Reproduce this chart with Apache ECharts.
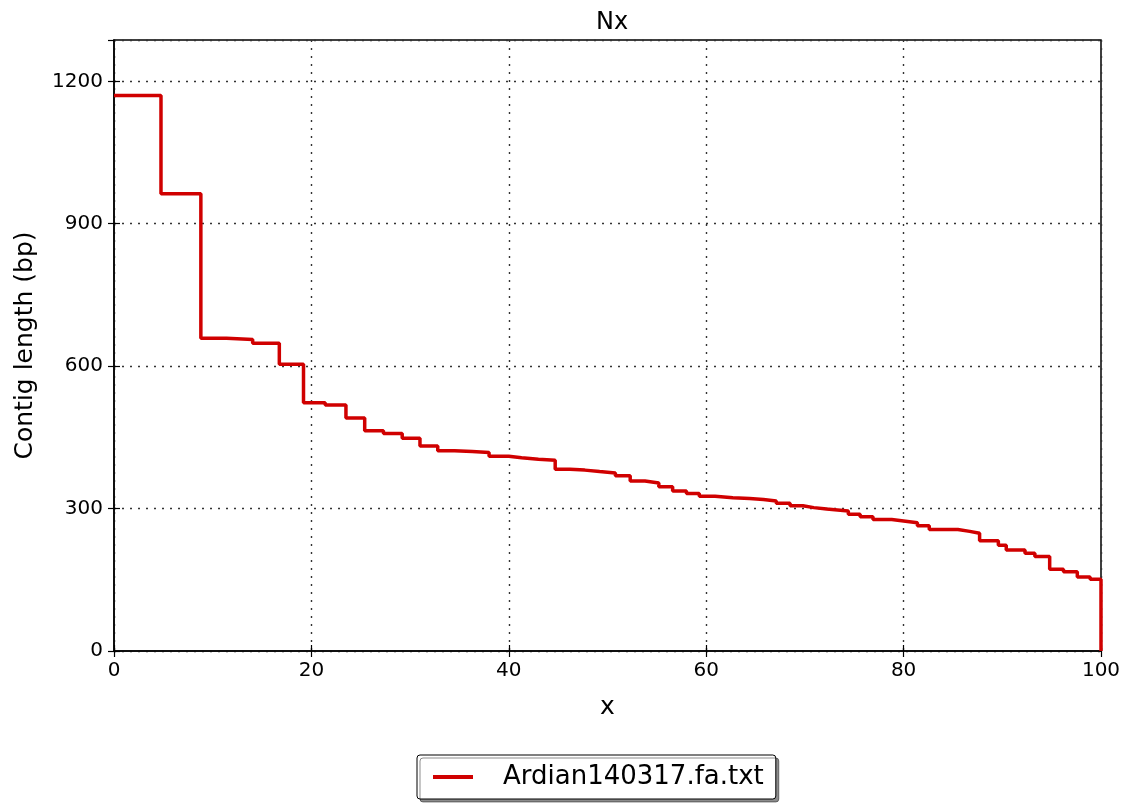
<!DOCTYPE html>
<html>
<head>
<meta charset="utf-8">
<script src="https://cdn.jsdelivr.net/npm/echarts@6/dist/echarts.min.js"></script>
<style>
html,body{margin:0;padding:0;background:#fff;}
#chart{width:1126px;height:803px;}
</style>
</head>
<body>
<div id="chart"></div>
<script>
// Nx curve: start position (x, %) of each level and its contig length (bp)
const stepStarts = [0, 4.76, 8.8, 11.4, 14.05, 16.75, 19.2, 21.4, 23.5, 25.4, 27.3, 29.2, 31.0, 32.8, 34.5, 36.3, 38.0, 40.0, 41.3, 43.0, 44.7, 46.2, 47.7, 49.2, 50.8, 52.3, 53.8, 55.2, 56.6, 58.0, 59.3, 60.9, 62.7, 64.4, 65.8, 67.1, 68.5, 69.8, 70.9, 72.2, 74.4, 75.6, 76.9, 78.8, 80.0, 81.4, 82.6, 85.5, 86.7, 87.7, 89.6, 90.4, 92.3, 93.3, 94.8, 96.2, 97.6, 98.9, 100, 100];
const stepLengths = [1170, 963, 659, 656, 648, 604, 523, 518, 491, 464, 458, 448, 432, 422, 420, 418, 410, 407, 404, 402, 383, 381, 378, 375, 369, 358, 354, 346, 337, 332, 326, 323, 321, 319, 316, 311, 306, 302, 299, 295, 288, 283, 277, 274, 270, 264, 256, 252, 248, 232, 223, 213, 206, 199, 172, 167, 156, 151, 147, 0];
const xTicks = [0, 20, 40, 60, 80, 100];
const yTicks = [0, 300, 600, 900, 1200];
const seriesName = 'Ardian140317.fa.txt';
const chartTitle = 'Nx';
const xName = 'x';
const yName = 'Contig length (bp)';

const data = stepStarts.map((x, i) => [x, stepLengths[i]]);
const FONT = 'DejaVu Sans';
const RED = '#d00000';
const gridDots = {show: true, lineStyle: {color: '#333', width: 1.4, type: [2, 6]}};
const tickIn = {show: true, inside: true, length: 6, lineStyle: {color: '#000', width: 1.2}};
const chart = echarts.init(document.getElementById('chart'), null, {renderer: 'canvas'});
chart.setOption({
  backgroundColor: '#fff',
  animation: false,
  textStyle: {fontFamily: FONT, color: '#000'},
  title: {
    text: chartTitle, left: 607, top: 6, textAlign: 'center',
    textStyle: {fontFamily: FONT, fontSize: 24, fontWeight: 'normal', color: '#000'}
  },
  grid: {
    left: 114, right: 25, top: 40, bottom: 152, show: true,
    borderColor: '#000', borderWidth: 1.5, backgroundColor: 'transparent'
  },
  legend: {
    data: [seriesName], left: 417, top: 755,
    orient: 'horizontal',
    backgroundColor: '#fff',
    borderColor: '#000', borderWidth: 1, borderRadius: 3,
    padding: [9, 12, 9, 16],
    shadowColor: 'rgba(0,0,0,0.45)', shadowOffsetX: 3, shadowOffsetY: 3, shadowBlur: 0,
    itemWidth: 40, itemHeight: 4,
    icon: 'rect',
    textStyle: {fontFamily: FONT, fontSize: 26, color: '#000', padding: [0, 0, 0, 25]}
  },
  xAxis: [{
    type: 'value', min: 0, max: 100, interval: 20,
    name: xName, nameLocation: 'middle', nameGap: 44,
    nameTextStyle: {fontFamily: FONT, fontSize: 25, color: '#000'},
    axisLine: {show: true, onZero: false, lineStyle: {color: '#000', width: 1.5}},
    axisTick: tickIn,
    axisLabel: {fontFamily: FONT, fontSize: 20, color: '#000', margin: 10},
    splitLine: gridDots
  }, {
    type: 'value', min: 0, max: 100, interval: 20, position: 'top',
    axisLine: {show: false}, axisTick: tickIn, axisLabel: {show: false}, splitLine: {show: false}
  }],
  yAxis: [{
    type: 'value', min: 0, max: 1287, interval: 300,
    name: yName, nameLocation: 'middle', nameGap: 76,
    nameTextStyle: {fontFamily: FONT, fontSize: 25, color: '#000'},
    axisLine: {show: true, lineStyle: {color: '#000', width: 1.5}},
    axisTick: tickIn,
    axisLabel: {fontFamily: FONT, fontSize: 20, color: '#000', margin: 11, showMaxLabel: false,
      formatter: v => String(v)},
    splitLine: gridDots
  }, {
    type: 'value', min: 0, max: 1287, interval: 300, position: 'right',
    axisLine: {show: false}, axisTick: tickIn, axisLabel: {show: false}, splitLine: {show: false}
  }],
  series: [{
    name: seriesName, type: 'line', step: 'end',
    data: data, symbol: 'none', showSymbol: false,
    lineStyle: {color: RED, width: 3.5},
    itemStyle: {color: RED}
  }]
});
</script>
</body>
</html>
